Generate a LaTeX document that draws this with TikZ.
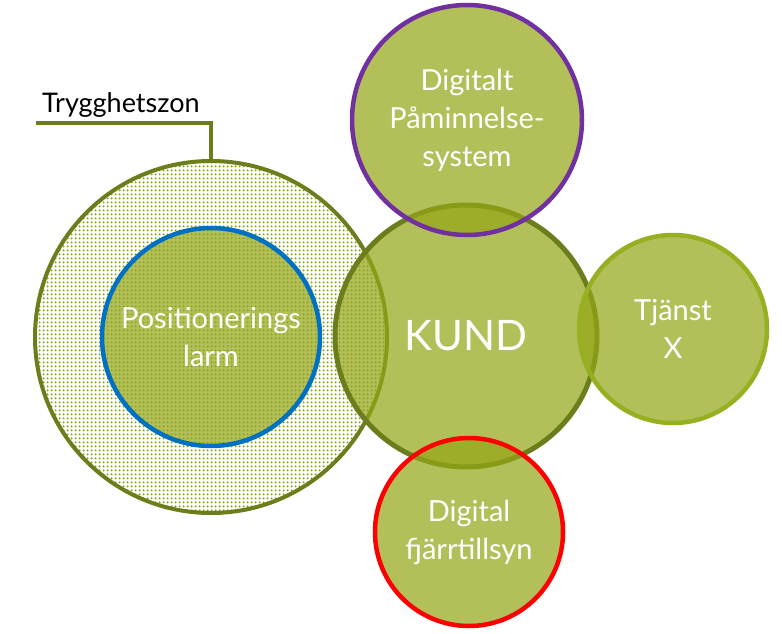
\documentclass[tikz,border=0pt]{standalone}
\usepackage{fontspec}
\setmainfont{Lato}
\usetikzlibrary{patterns.meta}
\definecolor{gfill}{RGB}{148,166,23}
\definecolor{darkol}{RGB}{108,126,28}
\definecolor{dotcol}{RGB}{130,158,22}
\definecolor{lightol}{RGB}{150,176,34}
\definecolor{purp}{RGB}{112,48,160}
\definecolor{blu}{RGB}{0,112,192}
\definecolor{rd}{RGB}{255,0,0}
\tikzset{
  bubble/.style={circle, fill=gfill, fill opacity=0.71, text opacity=1, draw opacity=1,
    text=white, align=center, inner sep=0pt, font=\fontsize{29}{38}\selectfont},
  lbl/.style={font=\fontsize{27}{30}\selectfont, text=black, inner sep=0pt}
}
\begin{document}
\begin{tikzpicture}[x=1pt,y=-1pt]
\useasboundingbox (0,0) rectangle (782,634);
% Trygghetszon
\node[circle, minimum size=352pt, draw=darkol, line width=4pt,
  pattern={Dots[distance=4pt, radius=1.3pt]}, pattern color=dotcol] (zon) at (211,337) {};
\node[bubble, minimum size=218pt, draw=blu, line width=4.5pt] (pos) at (211,337)
  {Positionerings\\larm};
\node[bubble, minimum size=262pt, draw=darkol, line width=5pt,
  font=\fontsize{42}{46}\selectfont] (kund) at (466,336) {KUND};
\node[bubble, minimum size=230pt, draw=purp, line width=4.5pt] (pam) at (467,120)
  {Digitalt\\Påminnelse-\\system};
\node[bubble, minimum size=188pt, draw=rd, line width=4.5pt] (fjarr) at (469,532)
  {Digital\\fjärrtillsyn};
\node[bubble, minimum size=188pt, draw=lightol, line width=4.5pt] (tj) at (673,329)
  {Tjänst\\X};
% label and connector
\coordinate (tzs) at (36,123);
\node[lbl, anchor=base west] (tzl) at (42,112) {Trygghetszon};
\draw[darkol, line width=4pt] (tzs) -| (zon.north);
\end{tikzpicture}
\end{document}
